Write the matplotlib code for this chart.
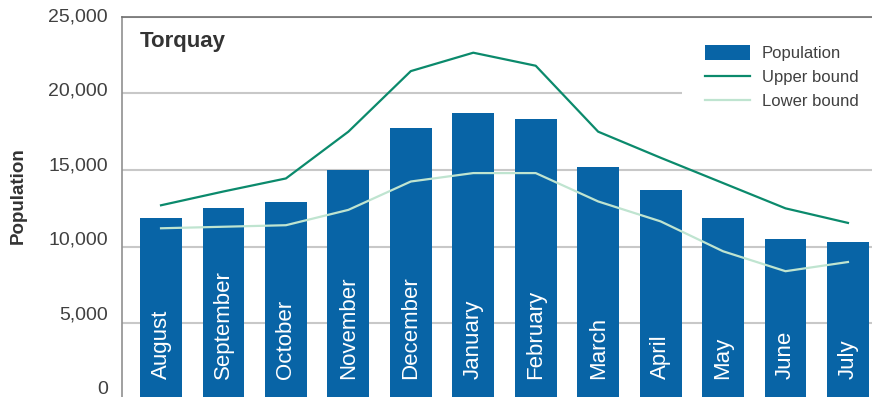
"""Torquay population by month with upper and lower bounds
"""
import numpy as np
import matplotlib
matplotlib.use("Agg")
import matplotlib.pyplot as plt
import matplotlib.transforms as mtransforms

months = ["August", "September", "October", "November", "December", "January",
          "February", "March", "April", "May", "June", "July"]
population = [11900, 12500, 12900, 15000, 17750, 18700,
              18300, 15200, 13700, 11850, 10500, 10300]
upper_bound = [12700, 13600, 14450, 17500, 21450, 22650,
               21800, 17500, 15800, 14150, 12500, 11550]
lower_bound = [11200, 11300, 11400, 12400, 14250, 14800,
               14800, 12950, 11650, 9700, 8400, 9000]
y_ticks = [0, 5000, 10000, 15000, 20000, 25000]

plt.rcParams['font.family'] = ['Liberation Sans', 'DejaVu Sans']

fig = plt.figure(figsize=(8.72, 3.97), dpi=100)
ax = fig.add_axes([0.1399, -0.0076, 0.8601, 0.9656])

x = np.arange(len(months))

# ----------
# Bars and lines
# ----------
bars = ax.bar(x, population, width=0.67, color="#0864a6", zorder=2, label="Population")
line_up, = ax.plot(x, upper_bound, color="#0b8a6c", lw=1.6, zorder=3, label="Upper bound")
line_lo, = ax.plot(x, lower_bound, color="#bfe4d0", lw=1.6, zorder=3, label="Lower bound")

# month names inside bars
for xi, name in zip(x, months):
    ax.text(xi, 1400, name, rotation=90, ha="center", va="bottom",
            color="white", fontsize=16, zorder=4)

# -------
# Axis
# -------
ax.set_xlim(-0.625, 11.385)
ax.set_ylim(0, 25000)
ax.set_xticks([])
ax.set_yticks(y_ticks)
ax.set_yticklabels([])
ax.tick_params(axis="y", length=0)
ax.yaxis.grid(True, color="#c8c8c8", lw=1.5, zorder=0)
ax.set_axisbelow(True)

# tick labels sit a little above the lower gridlines in the original
trans_y = mtransforms.blended_transform_factory(ax.transAxes, ax.transData)
for v in y_ticks:
    shift = (25000 - v) / 25000.0 * 11 / 100.0
    offset = mtransforms.ScaledTranslation(-0.14, shift, fig.dpi_scale_trans)
    ax.text(0, v, "{:,}".format(v), transform=trans_y + offset,
            ha="right", va="center", fontsize=14, color="#404040", clip_on=False)

for side in ["right", "bottom"]:
    ax.spines[side].set_visible(False)
ax.spines["left"].set_color("#909090")
ax.spines["top"].set_color("#707070")
ax.spines["left"].set_linewidth(1.2)
ax.spines["top"].set_linewidth(1.2)

# -------
# Labels
# -------
ax.text(0.024, 0.962, "Torquay", transform=ax.transAxes, ha="left", va="top",
        fontsize=16, fontweight="bold", color="#333333")
fig.text(0.021, 0.506, "Population", rotation=90, ha="center", va="center",
         fontsize=13.5, fontweight="bold", color="#333333")

leg = ax.legend([bars, line_up, line_lo], ["Population", "Upper bound", "Lower bound"],
                loc="upper left", bbox_to_anchor=((705 - 122) / 750.0 - 0.031, (400 - 22) / 383.3),
                borderaxespad=0, borderpad=1.4, fontsize=12, frameon=True,
                facecolor="white", edgecolor="none", framealpha=1,
                handlelength=2.7, handleheight=1.0, labelspacing=0.47,
                handletextpad=0.72, fancybox=False)
for t in leg.get_texts():
    t.set_color("#404040")
leg.set_zorder(5)

plt.savefig("out.png", dpi=100)
plt.close()
